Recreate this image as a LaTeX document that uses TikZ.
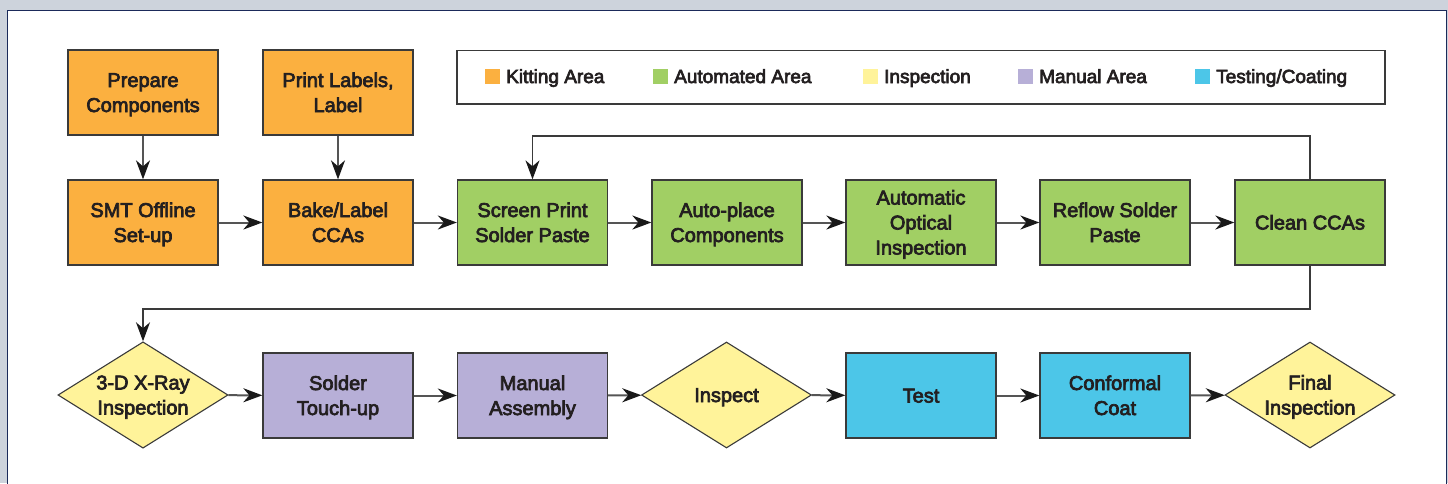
\documentclass[tikz,border=0pt]{standalone}
\usepackage{fontspec}
\setmainfont{Liberation Sans}[BoldFont={Liberation Sans},BoldFeatures={FakeBold=3.5}]
\usetikzlibrary{arrows.meta,shapes.geometric}
\definecolor{bgout}{HTML}{CDD3DC}
\definecolor{frame}{HTML}{1B2A5A}
\definecolor{kit}{HTML}{FBB040}
\definecolor{auto}{HTML}{A1CF64}
\definecolor{insp}{HTML}{FFF39A}
\definecolor{man}{HTML}{B7AFD7}
\definecolor{tst}{HTML}{4CC6E8}
\definecolor{edge}{HTML}{3A3A3A}
\definecolor{txt}{HTML}{231F20}
\definecolor{conn}{HTML}{555555}
\newcommand\ms{\rule[-4.5pt]{0pt}{23pt}}
\tikzset{
  procbox/.style={draw=edge, line width=1.3pt, minimum width=150pt, minimum height=85pt,
    inner sep=2pt, align=center, text=txt, font=\fontsize{20}{25}\selectfont\bfseries},
  decision/.style={draw=edge, line width=1.1pt, shape=diamond, aspect=1.6, inner sep=0pt,
    minimum width=170pt, minimum height=106pt, align=center, text=txt, font=\fontsize{20}{25}\selectfont\bfseries, fill=insp},
  flow/.style={draw=conn, line width=2pt, -{Stealth[length=19pt,width=14pt,inset=6pt,color=black!90]}},
  loopline/.style={draw=edge, line width=1.3pt, -{Stealth[length=19pt,width=14pt,inset=6pt,color=black!90]}},
  legsq/.style={minimum size=15pt, inner sep=0pt},
  legtxt/.style={anchor=base west, inner sep=0pt, text=txt, font=\fontsize{19}{22}\selectfont\bfseries},
}
\begin{document}
\begin{tikzpicture}[x=1pt,y=-1pt]
\useasboundingbox (0,0) rectangle (1448,483);
\fill[bgout] (0,0) rectangle (1448,483);
\draw[frame, line width=1.3pt, fill=white] (7.5,10.5) rectangle (1446.5,500);

% legend
\node[draw=edge, line width=1.3pt, minimum width=928pt, minimum height=53.5pt, inner sep=0pt] (legend) at (921,77.25) {};
\node[legsq, fill=kit] (lk) at (492.5,76) {};
\node[legtxt] (lkt) at (506,83) {Kitting Area};
\node[legsq, fill=auto] (la) at (660.5,76) {};
\node[legtxt] (lat) at (674,83) {Automated Area};
\node[legsq, fill=insp] (li) at (870.5,76) {};
\node[legtxt] (lit) at (884,83) {Inspection};
\node[legsq, fill=man] (lm) at (1025.5,76) {};
\node[legtxt] (lmt) at (1039,83) {Manual Area};
\node[legsq, fill=tst] (lt) at (1202.5,76) {};
\node[legtxt] (ltt) at (1216,83) {Testing/Coating};

% row 1
\node[procbox, fill=kit] (prep) at (143,92.5) {\ms Prepare\\\ms Components};
\node[procbox, fill=kit] (print) at (338,92.5) {\ms Print Labels,\\\ms Label};
% row 2
\node[procbox, fill=kit] (smt) at (143,222.5) {\ms SMT Offline\\\ms Set-up};
\node[procbox, fill=kit] (bake) at (338,222.5) {\ms Bake/Label\\\ms CCAs};
\node[procbox, fill=auto] (screen) at (532.5,222.5) {\ms Screen Print\\\ms Solder Paste};
\node[procbox, fill=auto] (place) at (727,222.5) {\ms Auto-place\\\ms Components};
\node[procbox, fill=auto] (aoi) at (921,222.5) {\ms Automatic\\\ms Optical\\\ms Inspection};
\node[procbox, fill=auto] (reflow) at (1115,222.5) {\ms Reflow Solder\\\ms Paste};
\node[procbox, fill=auto] (clean) at (1310,222.5) {\ms Clean CCAs};
% row 3
\node[decision] (xray) at (143,395) {\ms 3-D X-Ray\\\ms Inspection};
\node[procbox, fill=man] (touch) at (338,395.5) {\ms Solder\\\ms Touch-up};
\node[procbox, fill=man] (manual) at (532.5,395.5) {\ms Manual\\\ms Assembly};
\node[decision] (inspect) at (726.5,395) {\ms Inspect};
\node[procbox, fill=tst] (test) at (921,395.5) {\ms Test};
\node[procbox, fill=tst] (coat) at (1115,395.5) {\ms Conformal\\\ms Coat};
\node[decision] (final) at (1310,395) {\ms Final\\\ms Inspection};

\coordinate (lt1) at (1310,136);
\coordinate (lb1) at (1310,309);

% connectors
\draw[flow] (prep) -- (smt);
\draw[flow] (print) -- (bake);
\draw[flow] (smt) -- (bake);
\draw[flow] (bake) -- (screen);
\draw[flow] (screen) -- (place);
\draw[flow] (place) -- (aoi);
\draw[flow] (aoi) -- (reflow);
\draw[flow] (reflow) -- (clean);
\draw[loopline] (clean.north) -- (lt1) -| (screen.north);
\draw[loopline] (clean.south) -- (lb1) -| (xray.north);
\draw[flow] (xray) -- (touch);
\draw[flow] (touch) -- (manual);
\draw[flow] (manual) -- (inspect);
\draw[flow] (inspect) -- (test);
\draw[flow] (test) -- (coat);
\draw[flow] (coat) -- (final);
\end{tikzpicture}
\end{document}
